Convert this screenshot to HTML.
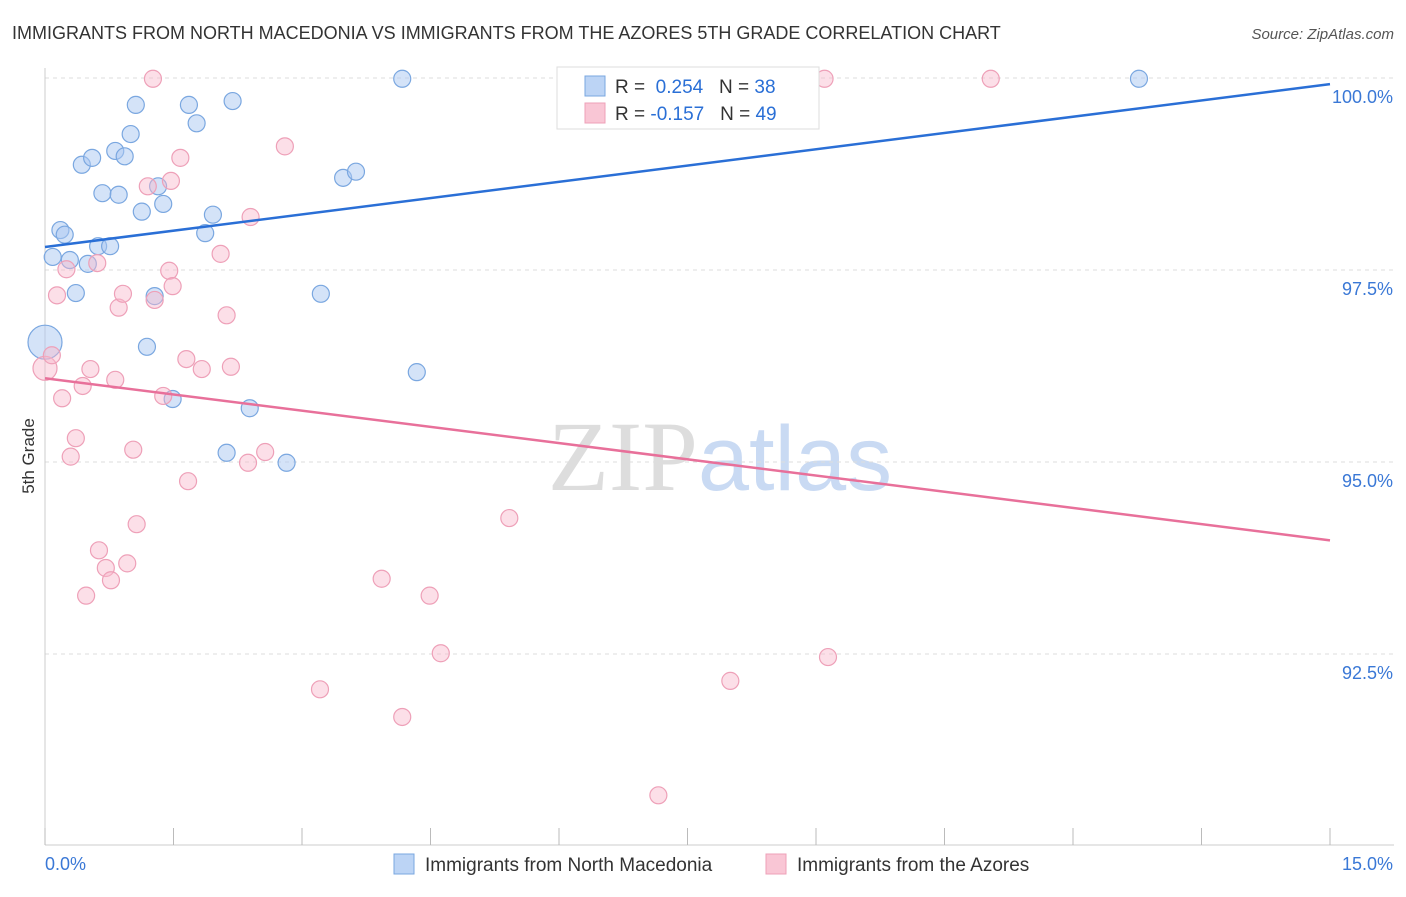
<!DOCTYPE html>
<html><head><meta charset="utf-8"><style>
body{margin:0;background:#fff;font-family:"Liberation Sans",sans-serif;}
svg text{font-family:"Liberation Sans",sans-serif;}
</style></head><body>
<svg id="chart" width="1406" height="892" viewBox="0 0 1406 892" xmlns="http://www.w3.org/2000/svg">
<text x="12" y="39" font-size="18" fill="#333">IMMIGRANTS FROM NORTH MACEDONIA VS IMMIGRANTS FROM THE AZORES 5TH GRADE CORRELATION CHART</text>
<text x="1394" y="39" font-size="15" fill="#555" text-anchor="end" font-style="italic">Source: ZipAtlas.com</text>
<text x="720" y="490" font-size="92" text-anchor="middle"><tspan fill="#ddd" font-family="Liberation Serif" font-size="100">ZIP</tspan><tspan fill="#c9daf3">atlas</tspan></text>
<g id="grid"></g>
<g id="axes"></g>
<g id="pts"></g>
<g id="lines"></g>
<text x="34" y="456" font-size="17" fill="#333" text-anchor="middle" transform="rotate(-90 34 456)">5th Grade</text>
<g>
<rect x="557" y="67" width="262" height="62" fill="#fff" stroke="#ddd"/>
<rect x="585" y="76" width="20" height="20" fill="#bcd4f5" stroke="#7aa7e0"/>
<rect x="585" y="103" width="20" height="20" fill="#f9c6d5" stroke="#eea0b8"/>
<text x="615" y="93" font-size="19" fill="#333">R = <tspan fill="#2a6fd6">&#160;0.254</tspan>&#160;&#160;&#160;N = <tspan fill="#2a6fd6">38</tspan></text>
<text x="615" y="120" font-size="19" fill="#333">R = <tspan fill="#2a6fd6">-0.157</tspan>&#160;&#160;&#160;N = <tspan fill="#2a6fd6">49</tspan></text>
</g>
<g>
<rect x="394" y="854" width="20" height="20" fill="#bcd4f5" stroke="#7aa7e0"/>
<text x="425" y="871" font-size="19" fill="#333">Immigrants from North Macedonia</text>
<rect x="766" y="854" width="20" height="20" fill="#f9c6d5" stroke="#eea0b8"/>
<text x="797" y="871" font-size="19" fill="#333">Immigrants from the Azores</text>
</g>
</svg>
<script>
const blueX=[0,0.09,0.18,0.23,0.29,0.36,0.43,0.50,0.55,0.62,0.67,0.76,0.82,0.86,0.93,1.00,1.06,1.13,1.19,1.28,1.32,1.38,1.49,1.68,1.77,1.87,1.96,2.12,2.19,2.39,2.82,3.22,3.48,3.63,4.17,4.34,8.07,12.77];
const blueY=[96.56,97.67,98.02,97.96,97.63,97.20,98.87,97.58,98.96,97.81,98.50,97.81,99.05,98.48,98.98,99.27,99.65,98.26,96.50,97.16,98.59,98.36,95.82,99.65,99.41,97.98,98.22,95.12,99.70,95.70,94.99,97.19,98.70,98.78,99.99,96.17,99.99,99.99];
const pinkX=[1.26,0,0.08,0.14,0.20,0.25,0.30,0.36,0.44,0.48,0.53,0.61,0.63,0.71,0.77,0.82,0.86,0.91,0.96,1.03,1.07,1.20,1.28,1.38,1.45,1.47,1.49,1.58,1.65,1.67,1.83,2.05,2.12,2.17,2.37,2.40,2.57,2.80,3.21,3.93,4.17,4.49,4.62,5.42,7.16,8.00,9.10,9.14,11.04];
const pinkY=[99.99,96.22,96.39,97.17,95.83,97.51,95.07,95.31,95.99,93.26,96.21,97.59,93.85,93.62,93.46,96.07,97.01,97.19,93.68,95.16,94.19,98.59,97.11,95.86,97.49,98.66,97.29,98.96,96.34,94.75,96.21,97.71,96.91,96.24,94.99,98.19,95.13,99.11,92.04,93.48,91.68,93.26,92.51,94.27,90.66,92.15,99.99,92.46,99.99];
const blueTrend=[97.8,99.92];
const pinkTrend=[96.09,93.98];
const yTicks=[100,97.5,95,92.5];
const yTickLabels=["100.0%","97.5%","95.0%","92.5%"];
const xEnds=["0.0%","15.0%"];
const NS="http://www.w3.org/2000/svg";
const X=v=>45+v*(1285/15);
const Y=v=>78+(100-v)*76.8;
function mk(t,a,p){const e=document.createElementNS(NS,t);for(const k in a)e.setAttribute(k,a[k]);p.appendChild(e);return e;}
const grid=document.getElementById('grid'),axes=document.getElementById('axes'),pts=document.getElementById('pts'),lines=document.getElementById('lines');
yTicks.forEach((t,i)=>{
 const l=mk('line',{x1:45,x2:1394,y1:Y(t),y2:Y(t),stroke:'#ddd','stroke-dasharray':'4,4'},grid);
 
 
 const tx=mk('text',{x:1393,y:Y(t)+25,'font-size':18,fill:'#3a78d6','text-anchor':'end'},axes);
 tx.textContent=yTickLabels[i];
 
 
});
const ax=mk('line',{x1:45,x2:1394,y1:845,y2:845,stroke:'#ccc'},axes);


const ay=mk('line',{x1:45,x2:45,y1:68,y2:845,stroke:'#ccc'},axes);


for(let i=0;i<=10;i++){
 const t=mk('line',{x1:X(i*1.5),x2:X(i*1.5),y1:828,y2:845,stroke:'#bbb'},axes);
 
 
}
const xl=mk('text',{x:45,y:870,'font-size':18,fill:'#3a78d6'},axes);xl.textContent=xEnds[0];


const xr=mk('text',{x:1393,y:870,'font-size':18,fill:'#3a78d6','text-anchor':'end'},axes);xr.textContent=xEnds[1];


function series(xs,ys,fill,stroke,name,bigIdx,bigR){
 xs.forEach((x,i)=>{
  const c=mk('circle',{cx:X(x),cy:Y(ys[i]),r:i===bigIdx?bigR:8.5,fill:fill,stroke:stroke,'stroke-width':1.2},pts);
  
  
 });
}
series(blueX,blueY,'rgba(170,200,242,0.5)','#7aa7e0','north-macedonia-point',0,17);
series(pinkX,pinkY,'rgba(248,185,205,0.45)','#eea0b8','azores-point',1,12);
const bl=mk('line',{x1:X(0),y1:Y(blueTrend[0]),x2:X(15),y2:Y(blueTrend[1]),stroke:'#2a6fd6','stroke-width':2.5},lines);


const pl=mk('line',{x1:X(0),y1:Y(pinkTrend[0]),x2:X(15),y2:Y(pinkTrend[1]),stroke:'#e8709a','stroke-width':2.5},lines);


</script>
</body></html>
